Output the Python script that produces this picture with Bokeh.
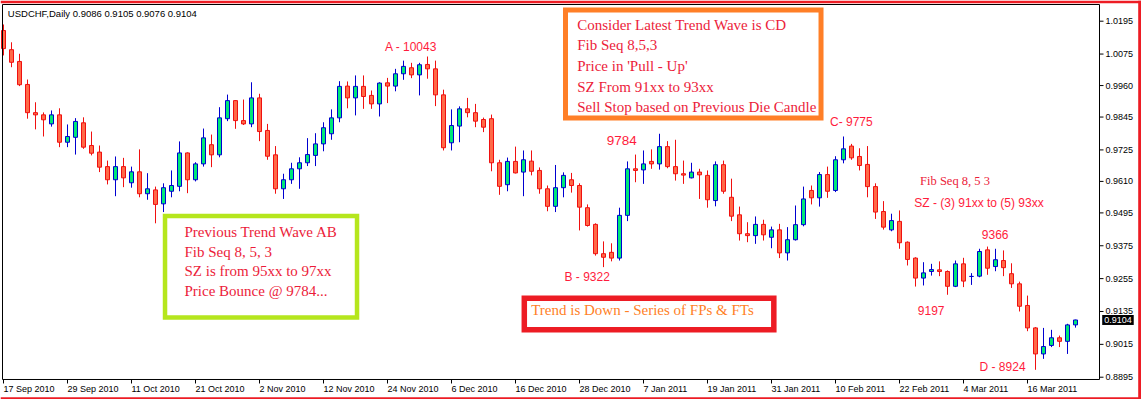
from bokeh.plotting import figure
from bokeh.models import ColumnDataSource, Label, BoxAnnotation, Range1d
from bokeh.core.properties import value
from bokeh.embed import file_html
from bokeh.resources import INLINE

# ---------------- data (USDCHF daily) ----------------
opens = [1.0161, 1.0091, 1.0048, 0.9964, 0.9861, 0.9853, 0.9820, 0.9853, 0.9753, 0.9771,
         0.9824, 0.9741, 0.9717, 0.9664, 0.9616, 0.9664, 0.9605, 0.9645, 0.9565, 0.9579,
         0.9528, 0.9574, 0.9592, 0.9714, 0.9616, 0.9674, 0.9744, 0.9707, 0.9839, 0.9905,
         0.9832, 0.9820, 0.9915, 0.9796, 0.9707, 0.9583, 0.9616, 0.9656, 0.9678, 0.9705,
         0.9747, 0.9784, 0.9842, 0.9958, 0.9915, 0.9957, 0.9924, 0.9893, 0.9970, 0.9958,
         1.0003, 1.0025, 0.9999, 1.0037, 1.0021, 0.9926, 0.9751, 0.9812, 0.9875, 0.9861,
         0.9836, 0.9839, 0.9678, 0.9598, 0.9683, 0.9644, 0.9684, 0.9650, 0.9583, 0.9519,
         0.9587, 0.9616, 0.9595, 0.9514, 0.9453, 0.9346, 0.9351, 0.9330, 0.9486, 0.9656,
         0.9652, 0.9683, 0.9674, 0.9737, 0.9664, 0.9638, 0.9623, 0.9644, 0.9632, 0.9540,
         0.9671, 0.9552, 0.9488, 0.9419, 0.9412, 0.9453, 0.9406, 0.9433, 0.9349, 0.9397,
         0.9452, 0.9577, 0.9550, 0.9635, 0.9577, 0.9689, 0.9739, 0.9701, 0.9672, 0.9591,
         0.9500, 0.9433, 0.9464, 0.9388, 0.9330, 0.9257, 0.9281, 0.9287, 0.9281, 0.9227,
         0.9309, 0.9263, 0.9264, 0.9360, 0.9299, 0.9321, 0.9273, 0.9236, 0.9157, 0.9075,
         0.8980, 0.9011, 0.9039, 0.9026, 0.9086]
highs = [1.0183, 1.0118, 1.0076, 0.9982, 0.9899, 0.9862, 0.9869, 0.9877, 0.9818, 0.9841,
         0.9844, 0.9792, 0.9741, 0.9686, 0.9701, 0.9696, 0.9664, 0.9727, 0.9640, 0.9591,
         0.9603, 0.9650, 0.9756, 0.9716, 0.9680, 0.9803, 0.9781, 0.9881, 0.9927, 0.9907,
         0.9909, 0.9972, 0.9930, 0.9820, 0.9739, 0.9638, 0.9678, 0.9698, 0.9768, 0.9786,
         0.9826, 0.9873, 0.9976, 0.9975, 0.9997, 0.9997, 0.9942, 0.9972, 0.9988, 1.0021,
         1.0051, 1.0043, 1.0043, 1.0066, 1.0051, 0.9945, 0.9873, 0.9884, 0.9915, 0.9893,
         0.9843, 0.9854, 0.9689, 0.9697, 0.9737, 0.9723, 0.9723, 0.9661, 0.9595, 0.9670,
         0.9643, 0.9641, 0.9603, 0.9526, 0.9457, 0.9391, 0.9384, 0.9514, 0.9683, 0.9708,
         0.9723, 0.9727, 0.9784, 0.9757, 0.9762, 0.9686, 0.9678, 0.9656, 0.9650, 0.9683,
         0.9686, 0.9620, 0.9518, 0.9461, 0.9482, 0.9470, 0.9445, 0.9455, 0.9443, 0.9522,
         0.9591, 0.9595, 0.9644, 0.9664, 0.9702, 0.9774, 0.9747, 0.9731, 0.9739, 0.9603,
         0.9538, 0.9492, 0.9504, 0.9391, 0.9333, 0.9315, 0.9309, 0.9318, 0.9285, 0.9321,
         0.9331, 0.9275, 0.9364, 0.9372, 0.9364, 0.9358, 0.9311, 0.9244, 0.9193, 0.9078,
         0.9075, 0.9068, 0.9047, 0.9090, 0.9105]
lows = [1.0070, 1.0027, 0.9958, 0.9839, 0.9800, 0.9774, 0.9810, 0.9735, 0.9735, 0.9708,
        0.9729, 0.9705, 0.9644, 0.9599, 0.9556, 0.9589, 0.9587, 0.9552, 0.9543, 0.9457,
        0.9498, 0.9552, 0.9574, 0.9567, 0.9610, 0.9664, 0.9662, 0.9698, 0.9830, 0.9802,
        0.9816, 0.9808, 0.9757, 0.9689, 0.9565, 0.9546, 0.9601, 0.9583, 0.9666, 0.9666,
        0.9720, 0.9762, 0.9826, 0.9877, 0.9851, 0.9875, 0.9875, 0.9847, 0.9896, 0.9939,
        0.9981, 0.9987, 0.9924, 0.9985, 0.9885, 0.9723, 0.9723, 0.9753, 0.9844, 0.9808,
        0.9790, 0.9647, 0.9561, 0.9574, 0.9639, 0.9556, 0.9632, 0.9565, 0.9501, 0.9498,
        0.9552, 0.9569, 0.9431, 0.9445, 0.9339, 0.9297, 0.9318, 0.9321, 0.9465, 0.9607,
        0.9601, 0.9656, 0.9653, 0.9658, 0.9613, 0.9601, 0.9621, 0.9546, 0.9514, 0.9519,
        0.9565, 0.9465, 0.9394, 0.9388, 0.9382, 0.9394, 0.9366, 0.9330, 0.9321, 0.9394,
        0.9446, 0.9526, 0.9518, 0.9550, 0.9571, 0.9676, 0.9689, 0.9650, 0.9552, 0.9473,
        0.9434, 0.9428, 0.9364, 0.9303, 0.9226, 0.9230, 0.9266, 0.9264, 0.9196, 0.9224,
        0.9224, 0.9232, 0.9260, 0.9269, 0.9282, 0.9264, 0.9221, 0.9135, 0.9063, 0.8922,
        0.8962, 0.9005, 0.9005, 0.8980, 0.9076]
closes = [1.0095, 1.0045, 0.9963, 0.9861, 0.9853, 0.9835, 0.9853, 0.9753, 0.9774, 0.9829,
          0.9735, 0.9713, 0.9662, 0.9616, 0.9664, 0.9623, 0.9645, 0.9565, 0.9583, 0.9526,
          0.9587, 0.9595, 0.9714, 0.9616, 0.9674, 0.9769, 0.9707, 0.9842, 0.9905, 0.9832,
          0.9820, 0.9915, 0.9792, 0.9702, 0.9583, 0.9616, 0.9656, 0.9678, 0.9708, 0.9747,
          0.9806, 0.9842, 0.9957, 0.9915, 0.9957, 0.9920, 0.9893, 0.9969, 0.9958, 1.0003,
          1.0030, 0.9999, 1.0036, 1.0021, 0.9926, 0.9733, 0.9814, 0.9875, 0.9861, 0.9830,
          0.9808, 0.9678, 0.9592, 0.9683, 0.9641, 0.9689, 0.9647, 0.9583, 0.9519, 0.9587,
          0.9632, 0.9595, 0.9516, 0.9449, 0.9346, 0.9333, 0.9330, 0.9486, 0.9656, 0.9650,
          0.9674, 0.9674, 0.9737, 0.9664, 0.9638, 0.9633, 0.9644, 0.9634, 0.9543, 0.9671,
          0.9574, 0.9483, 0.9419, 0.9412, 0.9453, 0.9415, 0.9433, 0.9349, 0.9397, 0.9452,
          0.9546, 0.9550, 0.9635, 0.9574, 0.9689, 0.9729, 0.9696, 0.9668, 0.9591, 0.9498,
          0.9443, 0.9467, 0.9386, 0.9325, 0.9257, 0.9276, 0.9288, 0.9281, 0.9227, 0.9309,
          0.9246, 0.9263, 0.9354, 0.9293, 0.9324, 0.9295, 0.9236, 0.9154, 0.9075, 0.8980,
          0.9007, 0.9039, 0.9026, 0.9086, 0.9104]

date_labels = ["17 Sep 2010", "29 Sep 2010", "11 Oct 2010", "21 Oct 2010", "2 Nov 2010",
               "12 Nov 2010", "24 Nov 2010", "6 Dec 2010", "16 Dec 2010", "28 Dec 2010",
               "7 Jan 2011", "19 Jan 2011", "31 Jan 2011", "10 Feb 2011", "22 Feb 2011",
               "4 Mar 2011", "16 Mar 2011"]
date_bars = [0, 8, 16, 24, 32, 40, 48, 56, 64, 72, 80, 88, 96, 104, 112, 120, 128]
price_labels = ["1.0195", "1.0075", "0.9960", "0.9845", "0.9725", "0.9610",
                "0.9495", "0.9375", "0.9255", "0.9135", "0.9015", "0.8895"]

# ---------------- styles / geometry ----------------
BULL_FILL, BULL_LINE = "#00E878", "#0000D0"
BEAR_FILL, BEAR_LINE = "#FF6A48", "#F01010"
NOTE_RED = "#FF1C3C"
SERIF_RED = "#EC1C3A"
FRAME_RED = "#ED1C24"

W, H = 1141, 399
X0, X1 = -0.375, 142.25          # whole canvas in bar units
Y0, Y1 = 0.881359, 1.027059      # whole canvas in price units
PXX = W / (X1 - X0)              # px per bar
PXY = H / (Y1 - Y0)              # px per price unit
# price pane frame in data units
FL, FR, FT, FB = -0.125, 137.0, 1.025598, 0.888664

n = len(opens)
up = [c >= o for o, c in zip(opens, closes)]
src = ColumnDataSource(dict(
    x=list(range(n)), o=opens, h=highs, l=lows, c=closes,
    top=[max(o, c) for o, c in zip(opens, closes)],
    bot=[min(o, c) for o, c in zip(opens, closes)],
    fill=[BULL_FILL if u else BEAR_FILL for u in up],
    line=[BULL_LINE if u else BEAR_LINE for u in up],
))

p = figure(width=W, height=H, x_range=Range1d(X0, X1), y_range=Range1d(Y0, Y1),
           x_axis_location=None, y_axis_location=None,
           toolbar_location=None, output_backend="svg",
           min_border_left=0, min_border_right=0, min_border_top=0, min_border_bottom=0,
           background_fill_color="white", border_fill_color="white")
p.outline_line_color = None
p.xgrid.visible = False
p.ygrid.visible = False

# candles
p.segment(x0="x", y0="l", x1="x", y1="h", line_color="line", line_width=1, source=src)
p.vbar(x="x", width=0.5, top="top", bottom="bot", fill_color="fill",
       line_color="line", line_width=1, source=src)

# price pane frame
p.add_layout(BoxAnnotation(left=FL, right=FR, top=FT, bottom=FB, fill_alpha=0,
                           line_color="black", line_alpha=1, line_width=1, line_join="miter"))

# price scale (right)
yt = [float(s) for s in price_labels]
p.segment(x0=[FR] * len(yt), x1=[FR + 4 / PXX] * len(yt), y0=yt, y1=yt,
          line_color="black", line_width=1)
p.text(x=[FR + 6 / PXX] * len(yt), y=yt, text=price_labels,
       text_font=value("Liberation Sans"), text_font_size=value("9px"),
       text_color="black", text_align="left", text_baseline="middle")

# time scale (bottom)
p.segment(x0=date_bars, x1=date_bars, y0=[FB] * len(date_bars),
          y1=[FB - 4 / PXY] * len(date_bars), line_color="black", line_width=1)
p.text(x=date_bars, y=[FB - 9.3 / PXY] * len(date_bars), text=date_labels,
       text_font=value("Liberation Sans"), text_font_size=value("9px"),
       text_color="black", text_align="left", text_baseline="middle")

# current price box on the price scale
p.add_layout(Label(x=FR + 2.7 / PXX, y=closes[-1], text=f"{closes[-1]:.4f}", text_align="left",
                   text_baseline="middle", text_font="Liberation Sans", text_font_size="9px",
                   text_color="white", background_fill_color="black", padding=2))

# header
p.add_layout(Label(x=0.54, y=1.02242,
                   text=f"USDCHF,Daily  {opens[-1]:.4f} {highs[-1]:.4f} {lows[-1]:.4f} {closes[-1]:.4f}",
                   text_align="left", text_baseline="middle", text_font="Liberation Sans",
                   text_font_size="9.5px", text_color="black"))

# boxes
p.add_layout(BoxAnnotation(left=70.25, right=102.19, top=1.02359, bottom=0.98415,
                           fill_color="white", fill_alpha=1, line_color="#FF7F27",
                           line_alpha=1, line_width=5, line_join="miter"))
p.add_layout(BoxAnnotation(left=20.19, right=44.19, top=0.94837, bottom=0.9113,
                           fill_color="white", fill_alpha=1, line_color="#B5E61D",
                           line_alpha=1, line_width=4.5, line_join="miter"))
p.add_layout(BoxAnnotation(left=65.1, right=96.29, top=0.91831, bottom=0.90685,
                           fill_color="white", fill_alpha=1, line_color="#ED1C24",
                           line_alpha=1, line_width=5.5, line_join="miter"))

def serif(x, y, t, size="15px", color=SERIF_RED, align="left"):
    p.add_layout(Label(x=x, y=y, text=t, text_align=align, text_baseline="middle",
                       text_font="Liberation Serif", text_font_size=size, text_color=color))

def sans(x, y, t, size="12px"):
    p.add_layout(Label(x=x, y=y, text=t, text_align="center", text_baseline="middle",
                       text_font="Liberation Sans", text_font_size=size, text_color=NOTE_RED))

orange_lines = ["Consider Latest Trend Wave is CD", "Fib Seq 8,5,3", "Price in 'Pull - Up'",
                "SZ From 91xx to 93xx", "Sell Stop based on Previous Die Candle"]
for t, y in zip(orange_lines, [1.01793, 1.01063, 1.00307, 0.99565, 0.98835]):
    serif(71.71, y, t)

green_lines = ["Previous Trend Wave AB", "Fib Seq 8, 5, 3", "SZ is from 95xx to 97xx",
               "Price Bounce @ 9784..."]
for t, y in zip(green_lines, [0.94245, 0.9354, 0.9281, 0.9208]):
    serif(22.625, y, t)

serif(65.96, 0.9139, "Trend is Down - Series of FPs & FTs", color="#FF7F27")

sans(50.94, 1.0099, "A - 10043")
sans(77.29, 0.9761, "9784", size="13.5px")
sans(105.98, 0.9826, "C- 9775")
sans(72.96, 0.9260, "B - 9322")
serif(118.94, 0.9610, "Fib Seq 8, 5 3", size="12.5px", align="center")
sans(121.94, 0.9532, "SZ - (3) 91xx to (5) 93xx")
sans(123.96, 0.9416, "9366")
sans(115.96, 0.9139, "9197")
sans(124.88, 0.8932, "D - 8924")

# red frame around the picture (top, right, bottom)
p.add_layout(BoxAnnotation(bottom=Y1 - 2.7 / PXY, fill_color=FRAME_RED, fill_alpha=1, line_color=None))
p.add_layout(BoxAnnotation(left=X1 - 3.3 / PXX, fill_color=FRAME_RED, fill_alpha=1, line_color=None))
p.add_layout(BoxAnnotation(top=Y0 + 2.3 / PXY, fill_color=FRAME_RED, fill_alpha=1, line_color=None))

open("out.html", "w").write(file_html(p, INLINE))
